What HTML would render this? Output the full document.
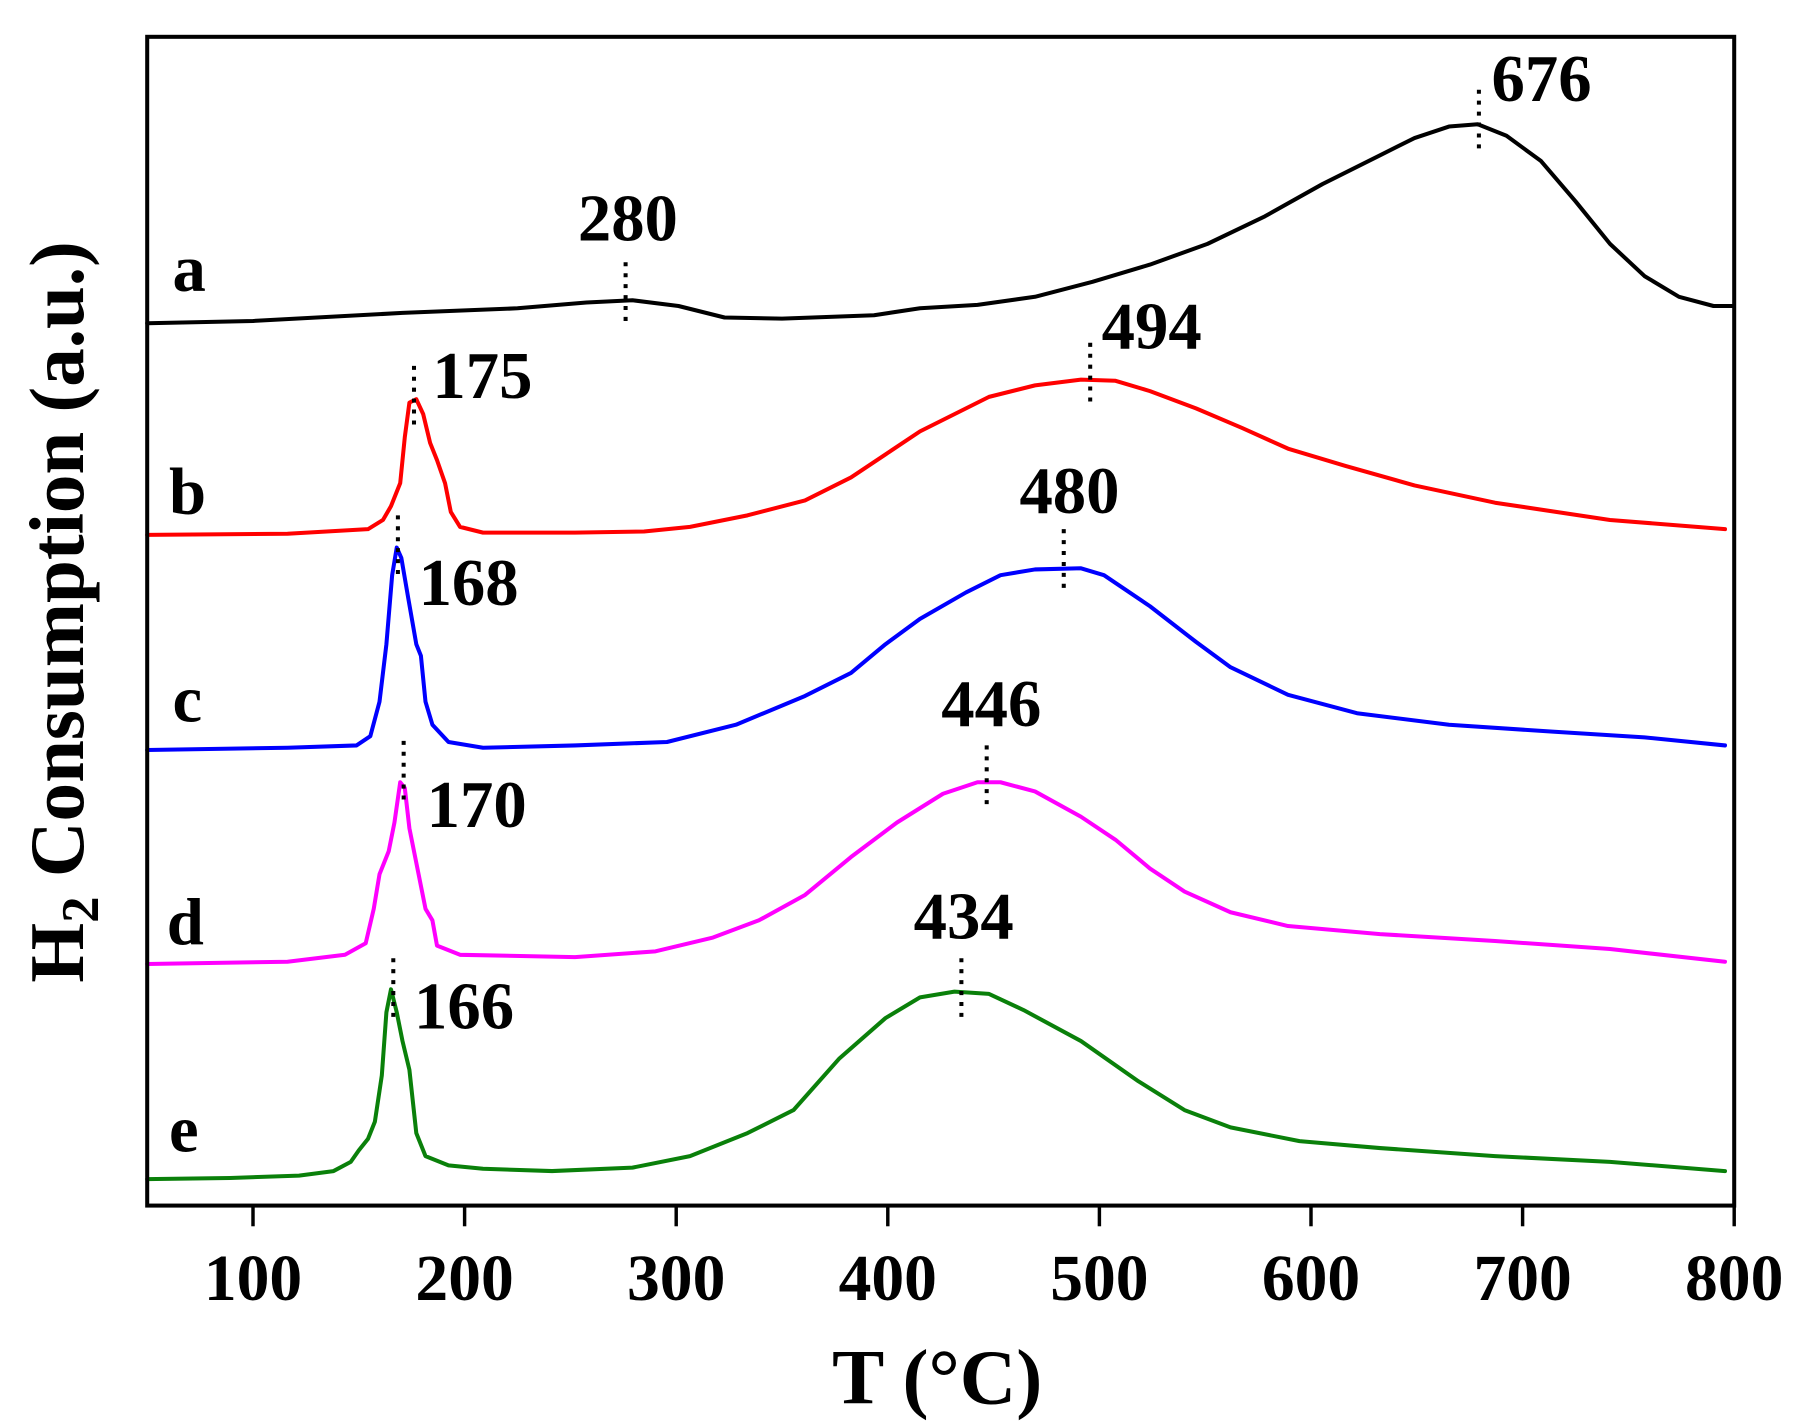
<!DOCTYPE html>
<html><head><meta charset="utf-8"><style>
html,body{margin:0;padding:0;background:#fff;}
svg{display:block;}
text{font-family:"Liberation Serif",serif;font-weight:bold;fill:#000;}
</style></head><body>
<svg width="1794" height="1423" viewBox="0 0 1560 1237" preserveAspectRatio="none" xmlns="http://www.w3.org/2000/svg">
<rect width="1560" height="1237" fill="#fff"/>
<g fill="none" stroke-width="3.5" stroke-linejoin="round" stroke-linecap="round">
<polyline stroke="#000" points="128,281 220,279 350,272 450,268 510,263 550,261 590,266 630,276 680,277 760,274 800,268 850,265 900,258 950,245 1000,230 1050,212 1100,188 1150,160 1200,135 1230,120 1260,110 1285,108 1310,118 1340,140 1370,175 1400,212 1430,240 1460,258 1490,266 1507,266"/>
<polyline stroke="#ff0000" points="128,465 250,464 320,460 333,452 340,440 348,420 352,380 356,350 362,347 368,360 374,385 380,400 387,420 392,445 400,458 420,463 500,463 560,462 600,458 650,448 700,435 740,415 770,395 800,375 830,360 860,345 900,335 940,330 970,331 1000,340 1040,355 1080,372 1120,390 1170,405 1230,422 1300,437 1400,452 1500,460"/>
<polyline stroke="#0000ff" points="128,652 250,650 310,648 322,640 330,610 336,560 341,500 345,476 349,485 355,520 362,560 366,570 370,610 376,630 390,645 420,650 500,648 580,645 640,630 700,605 740,585 770,560 800,538 840,515 870,500 900,495 940,494 960,500 1000,527 1040,558 1070,580 1120,604 1180,620 1260,630 1350,636 1430,641 1500,648"/>
<polyline stroke="#ff00ff" points="128,838 250,836 300,830 318,820 325,790 330,760 338,740 343,715 348,680 352,685 356,720 364,760 370,790 376,800 380,822 400,830 500,832 570,827 620,815 660,800 700,778 740,745 780,715 820,690 850,680 870,680 900,688 940,710 970,730 1000,755 1030,775 1070,793 1120,805 1200,812 1300,818 1400,825 1500,836"/>
<polyline stroke="#0a800a" points="128,1025 200,1024 260,1022 290,1018 305,1010 312,1000 320,990 326,975 332,935 336,880 340,860 345,880 350,905 356,930 362,985 370,1005 390,1013 420,1016 480,1018 550,1015 600,1005 650,985 690,965 730,920 770,885 800,867 830,862 860,864 890,878 940,905 990,940 1030,965 1070,980 1130,992 1200,998 1300,1005 1400,1010 1500,1018"/>
</g>
<g stroke="#000" stroke-width="3.5" stroke-dasharray="3.5,6">
<line x1="544" y1="228" x2="544" y2="284"/>
<line x1="1286" y1="78" x2="1286" y2="134"/>
<line x1="360" y1="318" x2="360" y2="374"/>
<line x1="948" y1="298" x2="948" y2="354"/>
<line x1="346" y1="448" x2="346" y2="504"/>
<line x1="925" y1="460" x2="925" y2="516"/>
<line x1="351" y1="644" x2="351" y2="700"/>
<line x1="858" y1="648" x2="858" y2="704"/>
<line x1="342" y1="833" x2="342" y2="889"/>
<line x1="836" y1="833" x2="836" y2="889"/>
</g>
<g font-size="58">
<text x="546" y="209" text-anchor="middle">280</text>
<text x="1297" y="88">676</text>
<text x="376" y="346">175</text>
<text x="958" y="303">494</text>
<text x="364" y="526">168</text>
<text x="930" y="446" text-anchor="middle">480</text>
<text x="371" y="719">170</text>
<text x="862" y="631" text-anchor="middle">446</text>
<text x="360" y="894">166</text>
<text x="838" y="816" text-anchor="middle">434</text>
<text x="150" y="253">a</text>
<text x="147" y="447">b</text>
<text x="150" y="627">c</text>
<text x="145" y="821">d</text>
<text x="147" y="1001">e</text>
</g>
<rect x="128" y="32" width="1380" height="1016" fill="none" stroke="#000" stroke-width="3.5"/>
<g stroke="#000" stroke-width="3">
<line x1="220" y1="1048" x2="220" y2="1066"/>
<line x1="404" y1="1048" x2="404" y2="1066"/>
<line x1="588" y1="1048" x2="588" y2="1066"/>
<line x1="772" y1="1048" x2="772" y2="1066"/>
<line x1="956" y1="1048" x2="956" y2="1066"/>
<line x1="1140" y1="1048" x2="1140" y2="1066"/>
<line x1="1324" y1="1048" x2="1324" y2="1066"/>
<line x1="1508" y1="1048" x2="1508" y2="1066"/>
</g>
<g font-size="57" text-anchor="middle">
<text x="220" y="1130">100</text>
<text x="404" y="1130">200</text>
<text x="588" y="1130">300</text>
<text x="772" y="1130">400</text>
<text x="956" y="1130">500</text>
<text x="1140" y="1130">600</text>
<text x="1324" y="1130">700</text>
<text x="1508" y="1130">800</text>
</g>
<text x="815" y="1220" font-size="68" text-anchor="middle">T (°C)</text>
<text transform="translate(72,532) rotate(-90)" font-size="67" text-anchor="middle">H<tspan font-size="46" dy="13">2</tspan><tspan dy="-13"> Consumption (a.u.)</tspan></text>
</svg>
</body></html>
